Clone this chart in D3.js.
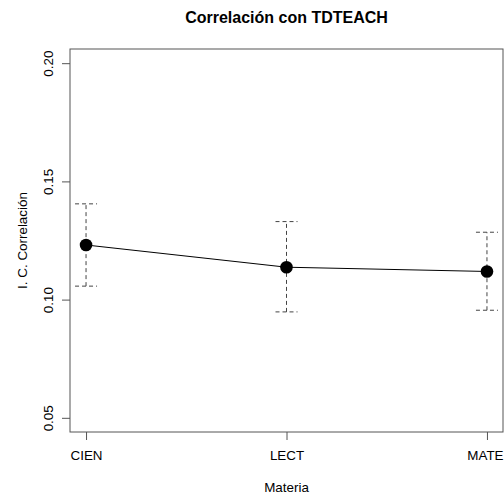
<!DOCTYPE html>
<html>
<head>
<meta charset="utf-8">
<title>Correlación con TDTEACH</title>
<style>
  body { margin: 0; background: #fff; }
  text { font-family: "Liberation Sans", Arial, sans-serif; fill: #000; }
</style>
</head>
<body>
<script src="https://d3js.org/d3.v7.min.js"></script>
<script>
// values
var materias = ["CIEN", "LECT", "MATE"];
var estimados = [0.1231, 0.1137, 0.1119];
var inferior = [0.1057, 0.0948, 0.0955];
var superior = [0.1405, 0.1330, 0.1285];
var yTicks = [0.05, 0.10, 0.15, 0.20];

var W = 504, H = 494;
var box = {left: 70, right: 503, top: 49, bottom: 432};

var svg = d3.select("body").append("svg")
    .attr("width", W).attr("height", H);

// R style: 4% extension on both ends
var x = d3.scaleLinear().domain([1 - 0.08, 3 + 0.08]).range([box.left, box.right]);
var y = d3.scaleLinear().domain([0.05 - 0.006, 0.20 + 0.006]).range([box.bottom, box.top]);

var data = materias.map(function(m, i) {
  return {m: m, i: i + 1, est: estimados[i], lo: inferior[i], hi: superior[i]};
});

// frame
svg.append("rect")
    .attr("x", box.left).attr("y", box.top)
    .attr("width", box.right - box.left).attr("height", box.bottom - box.top)
    .attr("fill", "none").attr("stroke", "#555").attr("stroke-width", 1);

// x axis
var xAxis = svg.append("g")
    .attr("transform", "translate(0," + box.bottom + ")")
    .call(d3.axisBottom(x).tickValues([1, 2, 3])
      .tickFormat(function(d) { return materias[d - 1]; })
      .tickSize(8));
xAxis.select(".domain").remove();
xAxis.selectAll("line").attr("stroke", "#555");
xAxis.selectAll("text")
    .attr("font-size", 13.4).attr("font-family", "Liberation Sans, Arial, sans-serif")
    .attr("y", 28).attr("dy", null);
// keep the last label inside the window
xAxis.selectAll("text").each(function() {
  var t = d3.select(this), bb = this.getBBox();
  var tx = x(t.datum());
  if (tx + bb.width / 2 > W - 1) {
    t.attr("text-anchor", "end").attr("x", W - 1 - tx);
  }
});

// y axis, rotated labels like R
var yAxis = svg.append("g")
    .attr("transform", "translate(" + box.left + ",0)")
    .call(d3.axisLeft(y).tickValues(yTicks).tickFormat(d3.format(".2f")).tickSize(8));
yAxis.select(".domain").remove();
yAxis.selectAll("line").attr("stroke", "#555");
yAxis.selectAll("text")
    .attr("font-size", 13.4).attr("font-family", "Liberation Sans, Arial, sans-serif")
    .attr("x", null).attr("dy", null)
    .attr("text-anchor", "middle")
    .attr("transform", "translate(-17.5,0) rotate(-90)");

// error bars
var err = svg.append("g");
err.selectAll(".bar").data(data).enter().append("line")
    .attr("x1", function(d) { return x(d.i); }).attr("x2", function(d) { return x(d.i); })
    .attr("y1", function(d) { return y(d.lo); }).attr("y2", function(d) { return y(d.hi); })
    .attr("stroke", "#444").attr("stroke-dasharray", "4,3");
["lo", "hi"].forEach(function(k) {
  err.selectAll(".cap" + k).data(data).enter().append("line")
      .attr("x1", function(d) { return x(d.i) - 11; }).attr("x2", function(d) { return x(d.i) + 11; })
      .attr("y1", function(d) { return y(d[k]); }).attr("y2", function(d) { return y(d[k]); })
      .attr("stroke", "#444").attr("stroke-dasharray", "4,3");
});

// line and points
var line = d3.line().x(function(d) { return x(d.i); }).y(function(d) { return y(d.est); });
svg.append("path").datum(data).attr("d", line)
    .attr("fill", "none").attr("stroke", "#000").attr("stroke-width", 1);
svg.selectAll(".pt").data(data).enter().append("circle")
    .attr("cx", function(d) { return x(d.i); }).attr("cy", function(d) { return y(d.est); })
    .attr("r", 6.3).attr("fill", "#000");

// titles
svg.append("text").attr("x", (box.left + box.right) / 2).attr("y", 23)
    .attr("text-anchor", "middle").attr("font-weight", "bold").attr("font-size", 16)
    .text("Correlación con TDTEACH");
svg.append("text").attr("x", (box.left + box.right) / 2).attr("y", 492)
    .attr("text-anchor", "middle").attr("font-size", 13.4)
    .text("Materia");
svg.append("text")
    .attr("transform", "translate(26.5," + (box.top + box.bottom) / 2 + ") rotate(-90)")
    .attr("text-anchor", "middle").attr("font-size", 13.4)
    .text("I. C. Correlación");
</script>
</body>
</html>
